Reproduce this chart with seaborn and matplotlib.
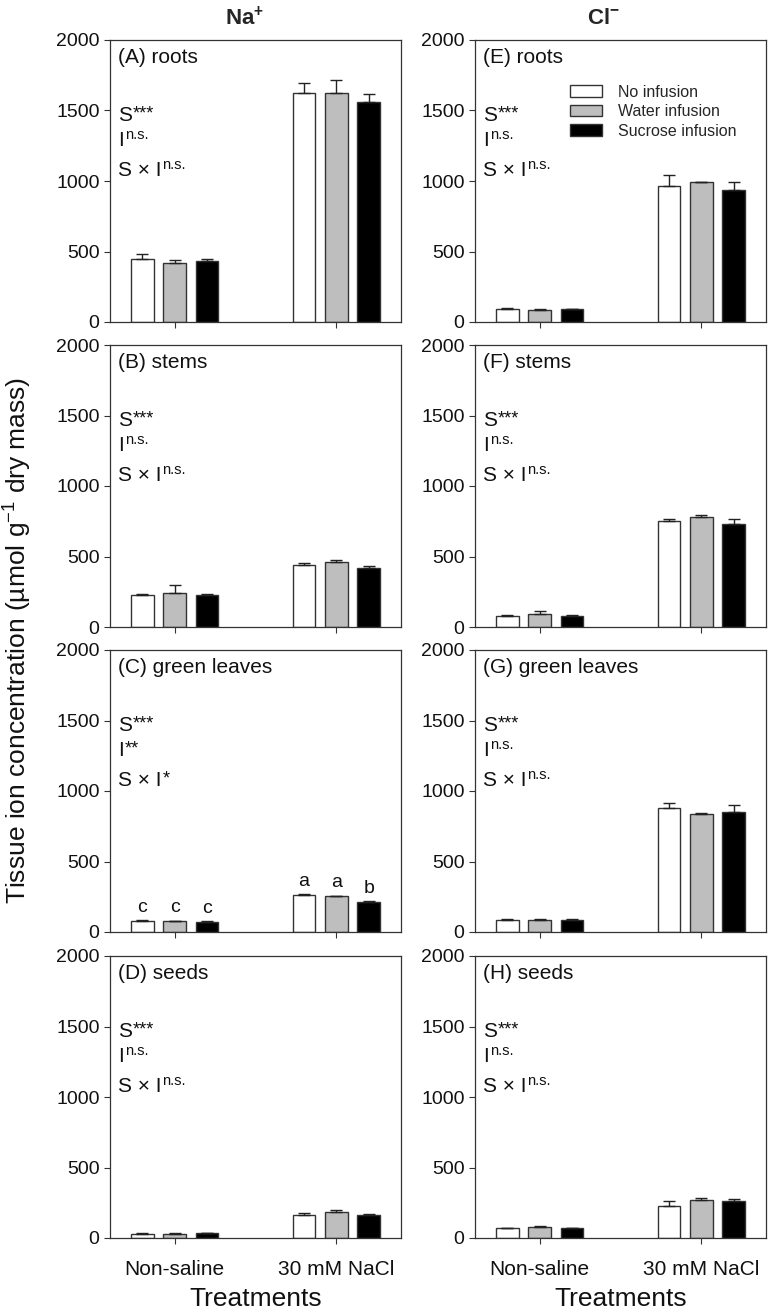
import pandas as pd
import numpy as np
import seaborn as sns
import matplotlib.pyplot as plt
from matplotlib.patches import Patch

treatments = ["Non-saline", "30 mM NaCl"]
infusions = ["No infusion", "Water infusion", "Sucrose infusion"]
yticks = [0, 500, 1000, 1500, 2000]

# order: non-saline (no, water, sucrose), then 30 mM NaCl (no, water, sucrose)
na_roots_mean = [450, 421, 435, 1626, 1626, 1558]
na_roots_se = [30, 21, 12, 70, 88, 60]
na_stems_mean = [225, 244, 225, 437, 462, 420]
na_stems_se = [9, 52, 9, 15, 12, 16]
na_leaves_mean = [78, 75, 72, 262, 252, 212]
na_leaves_se = [5, 5, 4, 5, 6, 8]
na_seeds_mean = [31, 31, 33, 163, 184, 166]
na_seeds_se = [3, 3, 3, 16, 14, 6]

cl_roots_mean = [95, 88, 90, 968, 990, 936]
cl_roots_se = [4, 3, 5, 77, 3, 56]
cl_stems_mean = [81, 95, 79, 750, 781, 733]
cl_stems_se = [5, 22, 4, 15, 13, 36]
cl_leaves_mean = [88, 85, 88, 880, 835, 850]
cl_leaves_se = [3, 4, 3, 33, 10, 50]
cl_seeds_mean = [71, 81, 71, 229, 269, 265]
cl_seeds_se = [3, 3, 3, 31, 12, 15]

panel_titles = ["(A) roots", "(B) stems", "(C) green leaves", "(D) seeds",
                "(E) roots", "(F) stems", "(G) green leaves", "(H) seeds"]
stats_s = ["***"] * 8
stats_i = ["n.s.", "n.s.", "**", "n.s.", "n.s.", "n.s.", "n.s.", "n.s."]
stats_sxi = ["n.s.", "n.s.", "*", "n.s.", "n.s.", "n.s.", "n.s.", "n.s."]
leaves_letters = ["c", "c", "c", "a", "a", "b"]

means = [na_roots_mean, na_stems_mean, na_leaves_mean, na_seeds_mean,
         cl_roots_mean, cl_stems_mean, cl_leaves_mean, cl_seeds_mean]
ses = [na_roots_se, na_stems_se, na_leaves_se, na_seeds_se,
       cl_roots_se, cl_stems_se, cl_leaves_se, cl_seeds_se]

colors = ["white", "#bebebe", "black"]

sns.set_theme(style="ticks")
plt.rcParams["font.family"] = ["Liberation Sans", "DejaVu Sans"]
plt.rcParams["mathtext.fontset"] = "custom"
plt.rcParams["mathtext.rm"] = "Liberation Sans"
plt.rcParams["mathtext.it"] = "Liberation Sans:italic"
plt.rcParams["mathtext.bf"] = "Liberation Sans:bold"


def sup_text(ax, x, y, base, sup, size=15):
    t = ax.text(x, y, base, transform=ax.transAxes, ha="left", va="top",
                fontsize=size, color="#111111")
    star = sup.startswith("*")
    ax.annotate(sup, xy=(1, 1), xycoords=t,
                xytext=(0.8, 0.5 if star else 2.2),
                textcoords="offset points", ha="left", va="top",
                fontsize=13 if star else 10.5, color="#111111")


fig = plt.figure(figsize=(7.71, 13.16), dpi=100)
W, H = 771, 1316
lefts = [110, 475]
tops = [40, 345, 650, 956]
aw, ah = 291, 282

for k in range(8):
    col, row = k // 4, k % 4
    ax = fig.add_axes([lefts[col] / W, 1 - (tops[row] + ah) / H, aw / W, ah / H])
    df = pd.DataFrame({
        "Treatment": [t for t in treatments for _ in infusions],
        "Infusion": infusions * 2,
        "Value": means[k],
        "SE": ses[k],
    })
    sns.barplot(data=df, x="Treatment", y="Value", hue="Infusion",
                order=treatments, hue_order=infusions, palette=colors,
                width=0.6, gap=0.3, errorbar=None, edgecolor="#333333",
                linewidth=1.0, legend=False, ax=ax)
    # upper error bars
    bar_conts = list(ax.containers)
    for j, cont in enumerate(bar_conts):
        for i, bar in enumerate(cont.patches):
            idx = i * 3 + j
            xc = bar.get_x() + bar.get_width() / 2
            ax.errorbar(xc, df["Value"][idx], yerr=[[0], [df["SE"][idx]]],
                        fmt="none", ecolor="#222222", elinewidth=1.0,
                        capsize=4, capthick=1.0)
            if k == 2:
                ax.text(xc, df["Value"][idx] + df["SE"][idx] + 30,
                        leaves_letters[idx], ha="center", va="bottom",
                        fontsize=14, color="#111111")
    ax.set_xlim(-0.40, 1.40)
    ax.set_ylim(0, 2000)
    ax.set_yticks(yticks)
    ax.tick_params(axis="both", direction="out", length=4.5, width=0.8,
                   labelsize=14, color="#333333", labelcolor="#111111")
    ax.tick_params(axis="y", pad=3)
    ax.set_xlabel("")
    ax.set_ylabel("")
    if row < 3:
        ax.set_xticklabels([])
    else:
        ax.set_xticklabels(treatments, fontsize=15)
        ax.tick_params(axis="x", pad=11)
        ax.set_xlabel("Treatments", fontsize=19, labelpad=6, color="#111111")
    for sp in ax.spines.values():
        sp.set_visible(True)
        sp.set_linewidth(0.9)
        sp.set_color("#333333")

    ax.text(0.027, 0.972, panel_titles[k], transform=ax.transAxes,
            ha="left", va="top", fontsize=15, color="#111111")
    sup_text(ax, 0.027, 0.765, "S", stats_s[k])
    sup_text(ax, 0.027, 0.677, "I", stats_i[k])
    sup_text(ax, 0.027, 0.570, "S \u00d7 I", stats_sxi[k])

    if k == 4:
        handles = [Patch(facecolor=c, edgecolor="#333333", linewidth=1.0)
                   for c in colors]
        ax.legend(handles, infusions, loc="upper left",
                  bbox_to_anchor=(0.326, 0.842), frameon=False, fontsize=11.5,
                  handlelength=2.0, handleheight=0.7, labelspacing=0.28,
                  handletextpad=1.0, borderaxespad=0, borderpad=0)

fig.text(245 / W, 1 - 18 / H, "Na$^{\\mathbf{+}}$", ha="center", va="center",
         fontsize=16, fontweight="bold",
         family=["Liberation Sans Narrow", "Liberation Sans"])
fig.text(603 / W, 1 - 18 / H, "Cl$^{\\mathbf{-}}$", ha="center", va="center",
         fontsize=16, fontweight="bold",
         family=["Liberation Sans Narrow", "Liberation Sans"])
fig.text(18 / W, 1 - 640 / H, "Tissue ion concentration (µmol g$^{-1}$ dry mass)",
         rotation=90, ha="center", va="center", fontsize=19, color="#111111")

plt.savefig("out.png", dpi=100)
